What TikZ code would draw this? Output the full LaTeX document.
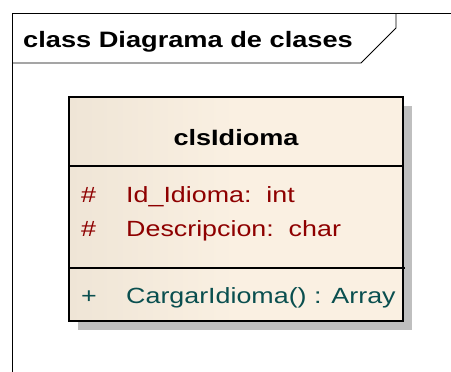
\documentclass[tikz,border=0pt]{standalone}
\usepackage{fontspec}
\setmainfont{Liberation Sans}[FakeStretch=1.22]
\usetikzlibrary{shadows}
\definecolor{clsleft}{HTML}{E4DACA}
\definecolor{clsright}{HTML}{FAF0E2}
\definecolor{attrred}{HTML}{8E0000}
\definecolor{opteal}{HTML}{0A4F4F}
\pgfdeclarehorizontalshading{clsfill}{100bp}{color(0bp)=(clsleft); color(50bp)=(clsright); color(100bp)=(clsright)}
\tikzstyle{frameline} = [line width=0.9pt, draw=black]
\tikzstyle{framelabel} = [anchor=base west, inner sep=0pt, font=\fontsize{22.3}{26}\selectfont\bfseries]
\tikzstyle{classbox} = [rectangle, 
draw=black, 
line width=1.3pt, 
minimum width=334pt, 
minimum height=224pt, 
shading=clsfill, 
drop shadow={shadow xshift=8.5pt, shadow yshift=-8.5pt, fill=black!25, opacity=1}]
\tikzstyle{classname} = [anchor=base, inner sep=0pt, font=\fontsize{22.2}{26}\selectfont\bfseries]
\tikzstyle{member} = [anchor=base west, inner sep=0pt, font=\fontsize{22}{26}\selectfont]

\begin{document}
\begin{tikzpicture}[x=1pt, y=-1pt]
\useasboundingbox (0,0) rectangle (451,372);
% frame
\coordinate (ftr) at (451,13);
\coordinate (ftl) at (12,13);
\coordinate (fbl) at (12,372);
\coordinate (tabl) at (12,63);
\coordinate (tabb) at (361,63);
\coordinate (tabs) at (396,28);
\coordinate (tabt) at (396,13);
\draw [frameline] (ftr) -- (ftl) -- (fbl);
\draw [frameline] (tabl) -- (tabb) -- (tabs) -- (tabt);
\node (flabel) [framelabel] at (23,47.5) {class Diagrama de clases};
% class
\node (cls) [classbox] at (236,209) {};
\coordinate (sep1l) at (69,166);
\coordinate (sep1r) at (403,166);
\coordinate (sep2l) at (69,268);
\coordinate (sep2r) at (405,268);
\draw [line width=1.1pt] (sep1l) -- (sep1r);
\draw [line width=1.1pt] (sep2l) -- (sep2r);
\node (cname) [classname] at (236,145) {clsIdioma};
\node (v1) [member, text=attrred] at (81,202) {\#};
\node (a1) [member, text=attrred] at (126,202) {Id\_Idioma:\ \ int};
\node (v2) [member, text=attrred] at (81,236) {\#};
\node (a2) [member, text=attrred] at (126,236) {Descripcion:\ \ char};
\node (v3) [member, text=opteal] at (81,303) {+};
\node (m1) [member, text=opteal] at (126,303) {CargarIdioma() : Array};
\end{tikzpicture}
\end{document}
